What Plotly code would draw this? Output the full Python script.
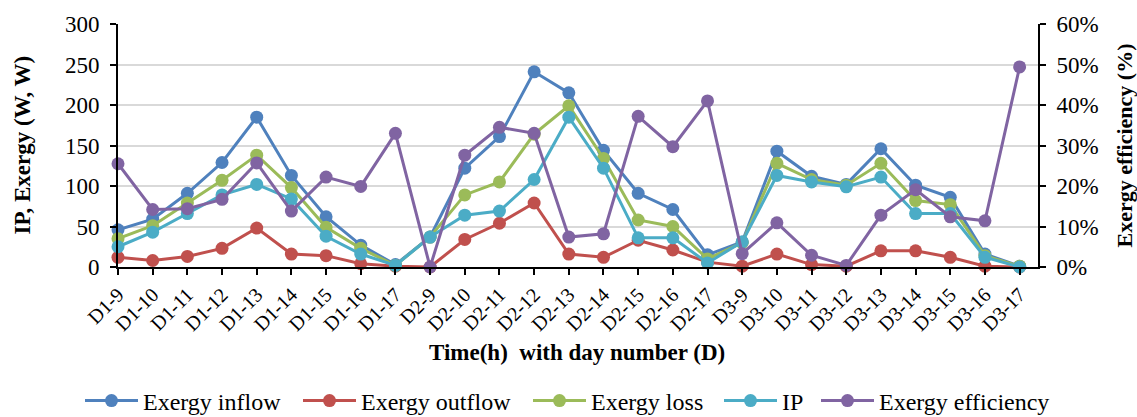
import plotly.graph_objects as go

categories = ["D1-9", "D1-10", "D1-11", "D1-12", "D1-13", "D1-14", "D1-15", "D1-16", "D1-17",
              "D2-9", "D2-10", "D2-11", "D2-12", "D2-13", "D2-14", "D2-15", "D2-16", "D2-17",
              "D3-9", "D3-10", "D3-11", "D3-12", "D3-13", "D3-14", "D3-15", "D3-16", "D3-17"]

exergy_inflow = [46, 59, 91, 129, 185, 113, 62, 27, 3,
                 37, 122, 161, 241, 215, 144, 91, 71, 15,
                 31, 143, 112, 102, 146, 101, 86, 16, 1]
exergy_outflow = [12, 8, 13, 23, 48, 16, 14, 4, 1,
                  0, 34, 54, 79, 16, 12, 33, 21, 6,
                  1, 16, 3, 1, 20, 20, 12, 1, 0]
exergy_loss = [35, 51, 79, 107, 138, 98, 49, 23, 2,
               37, 89, 105, 164, 199, 134, 58, 50, 10,
               30, 128, 108, 101, 128, 82, 77, 14, 1]
ip = [25, 43, 66, 89, 102, 84, 38, 16, 2,
      37, 64, 69, 108, 185, 122, 36, 36, 5,
      31, 113, 105, 99, 111, 66, 66, 12, 0]
exergy_efficiency = [25.5, 14.2, 14.4, 16.7, 25.7, 13.8, 22.2, 19.9, 33.0,
                     0.0, 27.6, 34.5, 33.0, 7.4, 8.2, 37.2, 29.7, 41.0,
                     3.3, 10.9, 2.9, 0.4, 12.8, 19.1, 12.4, 11.4, 49.4]

left_ticks = [0, 50, 100, 150, 200, 250, 300]
right_ticks = [0, 10, 20, 30, 40, 50, 60]
right_ticklabels = [f"{v}%" for v in right_ticks]

FONT = "Liberation Serif"

series = [
    ("Exergy inflow", exergy_inflow, "#4F81BD", "y", 150),
    ("Exergy outflow", exergy_outflow, "#C0504D", "y", 162),
    ("Exergy loss", exergy_loss, "#9BBB59", "y", 123),
    ("IP", ip, "#4BACC6", "y", 29),
    ("Exergy efficiency", exergy_efficiency, "#8064A2", "y2", 178),
]

fig = go.Figure()
for name, vals, color, yax, lw in series:
    fig.add_trace(go.Scatter(
        x=list(range(len(categories))), y=vals, name=name, yaxis=yax,
        mode="lines+markers", cliponaxis=False, legendwidth=lw,
        line=dict(color=color, width=3),
        marker=dict(color=color, size=13, line=dict(width=0)),
    ))

fig.update_layout(
    width=1137, height=417,
    margin=dict(l=118, r=99, t=24, b=150, autoexpand=False),
    paper_bgcolor="white", plot_bgcolor="white",
    font=dict(family=FONT, color="black", size=22),
    showlegend=True,
    legend=dict(orientation="h", x=(80 - 118) / 920, xanchor="left",
                y=(267 - 401) / 243, yanchor="middle", itemwidth=53,
                font=dict(family=FONT, size=24), traceorder="normal"),
    xaxis=dict(
        range=[0, 26.53], tickmode="array", tickvals=list(range(len(categories))),
        ticktext=categories, tickangle=-45, tickfont=dict(size=20),
        showgrid=False, showline=True, linecolor="black", linewidth=2,
        ticks="outside", ticklen=6, tickwidth=1.5, tickcolor="black", zeroline=False,
    ),
    yaxis=dict(
        range=[0, 300], tickvals=left_ticks, tickfont=dict(size=23),
        showgrid=True, gridcolor="#D9D9D9", gridwidth=2,
        showline=True, linecolor="black", linewidth=2,
        ticks="outside", ticklen=6, tickwidth=1.5, tickcolor="black", zeroline=False,
        ticklabelstandoff=6,
    ),
    yaxis2=dict(
        range=[0, 60], tickvals=right_ticks, ticktext=right_ticklabels, tickfont=dict(size=23),
        overlaying="y", side="right", showgrid=False,
        showline=True, linecolor="black", linewidth=2,
        ticks="outside", ticklen=6, tickwidth=1.5, tickcolor="black", zeroline=False,
        ticklabelstandoff=6,
    ),
    annotations=[
        dict(text="<b>IP, Exergy (W, W)</b>", xref="paper", yref="paper",
             x=(22 - 118) / 920, y=0.5, textangle=-90, showarrow=False,
             xanchor="center", yanchor="middle", font=dict(size=23)),
        dict(text="<b>Exergy efficiency (%)</b>", xref="paper", yref="paper",
             x=(1124 - 118) / 920, y=0.5, textangle=-90, showarrow=False,
             xanchor="center", yanchor="middle", font=dict(size=22)),
        dict(text="<b>Time(h)  with day number (D)</b>", xref="paper", yref="paper",
             x=(577 - 118) / 920, y=(267 - 352) / 243, showarrow=False,
             xanchor="center", yanchor="middle", font=dict(size=23)),
    ],
)

fig.write_html("out.html")
